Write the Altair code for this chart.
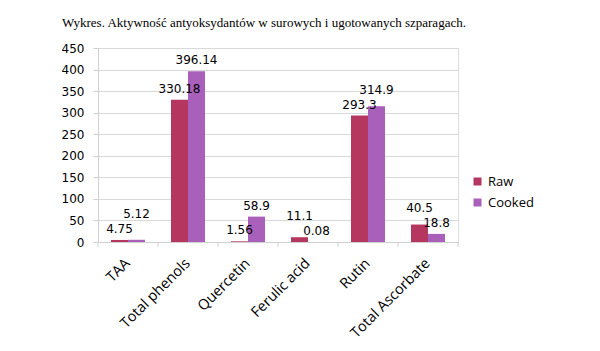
import altair as alt
import pandas as pd

categories = ["TAA", "Total phenols", "Quercetin", "Ferulic acid", "Rutin", "Total Ascorbate"]
raw_values = [4.75, 330.18, 1.56, 11.1, 293.3, 40.5]
cooked_values = [5.12, 396.14, 58.9, 0.08, 314.9, 18.8]
series_names = ["Raw", "Cooked"]
series_colors = ["#B5375F", "#A960BA"]
title_text = "Wykres. Aktywność antyoksydantów w surowych i ugotowanych szparagach."

W, H = 360, 194
Y_MAX = 450
PX_PER_UNIT = H / Y_MAX
MIN_SEP_PX = 15  # minimal vertical gap between the two labels of one group

rows = []
for c, r, k in zip(categories, raw_values, cooked_values):
    # lift the label of the taller bar when the two labels would collide
    gap = abs(r - k) * PX_PER_UNIT
    lift = max(0.0, MIN_SEP_PX - gap) / PX_PER_UNIT
    r_lab = r + (lift if r >= k else 0)
    k_lab = k + (lift if k > r else 0)
    rows.append({"cat": c, "series": "Raw", "value": r, "label": f"{r:g}", "label_y": r_lab})
    rows.append({"cat": c, "series": "Cooked", "value": k, "label": f"{k:g}", "label_y": k_lab})
df = pd.DataFrame(rows)
ticks_df = pd.DataFrame({"cat": categories})

x_axis = alt.Axis(labelAngle=-45, labelAlign="right", labelBaseline="middle",
                  labelFont="Open Sans", labelFontSize=14.5, labelColor="#000000",
                  labelPadding=19, ticks=False, domainColor="#d0d0d0",
                  grid=False, labelOverlap=False)
y_axis = alt.Axis(values=list(range(0, 451, 50)), labelFont="DejaVu Sans",
                  labelFontSize=12, labelColor="#000000", tickColor="#d0d0d0",
                  tickSize=5, domainColor="#d0d0d0", gridColor="#d9d9d9",
                  labelPadding=9, labelOverlap=False)
x_scale = alt.Scale(paddingInner=0, paddingOuter=0)
y_scale = alt.Scale(domain=[0, Y_MAX], nice=False)

x_enc = alt.X("cat:N", sort=categories, title=None, scale=x_scale, axis=x_axis)
y_enc = alt.Y("value:Q", title=None, scale=y_scale, axis=y_axis)
xoff = alt.XOffset("series:N", sort=series_names,
                   scale=alt.Scale(paddingOuter=0.765, paddingInner=0))
color = alt.Color("series:N", sort=series_names,
                  scale=alt.Scale(domain=series_names, range=series_colors),
                  legend=alt.Legend(title=None, orient="none", legendX=373, legendY=127,
                                    symbolType="square", symbolSize=64,
                                    labelFont="Open Sans", labelFontSize=13,
                                    labelColor="#000000", rowPadding=7, symbolStrokeWidth=0))

bars = alt.Chart(df).mark_bar(stroke=None).encode(x=x_enc, y=y_enc, xOffset=xoff, color=color)
labels = alt.Chart(df).mark_text(font="DejaVu Sans", fontSize=12, color="#000000",
                                 baseline="middle", dy=-11).encode(
    x=x_enc, y=alt.Y("label_y:Q", title=None, scale=y_scale, axis=y_axis),
    xOffset=xoff, text="label:N")
tick_rules = alt.Chart(ticks_df).mark_rule(color="#d0d0d0").encode(
    x=alt.X("cat:N", sort=categories, bandPosition=0, title=None, scale=x_scale, axis=x_axis),
    y=alt.value(H), y2=alt.value(H + 5))
end_tick = alt.Chart(ticks_df.head(1)).mark_rule(color="#d0d0d0").encode(
    x=alt.value(W), y=alt.value(H), y2=alt.value(H + 5))

chart = alt.layer(bars, labels, tick_rules, end_tick).properties(
    width=W, height=H,
    title=alt.TitleParams(title_text, anchor="start", frame="group", font="Liberation Serif",
                          fontSize=13, fontWeight="normal", color="#000000", dx=-36, offset=12),
    autosize=alt.AutoSizeParams(type="none"),
    padding={"left": 98, "top": 48, "right": 142, "bottom": 109},
).configure_view(stroke=None).configure(background="white")

chart.save("out.html", embed_options={"renderer": "svg", "actions": False})
